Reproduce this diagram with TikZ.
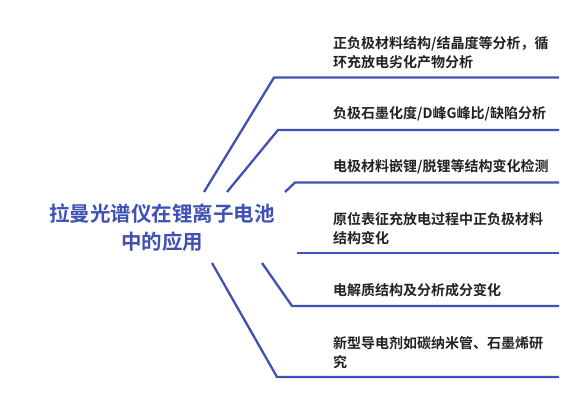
\documentclass[tikz,border=0pt]{standalone}
\usepackage{fontspec}
\setmainfont{Noto Sans CJK SC}
\newfontfamily\cjkb{Noto Sans CJK SC Bold}
\definecolor{lineblue}{HTML}{3F51B5}
\definecolor{titleblue}{HTML}{3F51B5}
\definecolor{labeltxt}{HTML}{222222}
\begin{document}
\begin{tikzpicture}[x=1pt,y=-1pt,
  branch/.style={draw=lineblue,line width=2.3pt,line join=miter},
  leaf/.style={anchor=west,inner sep=0pt,align=left,text=labeltxt,
    font=\cjkb\fontsize{14}{19}\selectfont},
  root/.style={inner sep=0pt,align=center,text=titleblue,
    font=\cjkb\fontsize{20.5}{28}\selectfont}]
\useasboundingbox (0,0) rectangle (588,407);
\node[root] (title) at (162,228) {拉曼光谱仪在锂离子电池\\中的应用};
\node[leaf] (l1) at (333,52.5) {正负极材料结构/结晶度等分析，循\\环充放电劣化产物分析};
\node[leaf] (l2) at (333,114) {负极石墨化度/D峰G峰比/缺陷分析};
\node[leaf] (l3) at (333,167) {电极材料嵌锂/脱锂等结构变化检测};
\node[leaf] (l4) at (333,229) {原位表征充放电过程中正负极材料\\结构变化};
\node[leaf] (l5) at (333,290) {电解质结构及分析成分变化};
\node[leaf] (l6) at (333,352.5) {新型导电剂如碳纳米管、石墨烯研\\究};
% branch coordinates
\coordinate (s1) at (204,192); \coordinate (k1) at (274,77.5); \coordinate (e1) at (559,77.5);
\coordinate (s2) at (227,192); \coordinate (k2) at (278,130); \coordinate (e2) at (559,130);
\coordinate (s3) at (285,192); \coordinate (k3) at (295,182.5); \coordinate (e3) at (559,182.5);
\coordinate (k4) at (297,253); \coordinate (e4) at (559,253);
\coordinate (s5) at (262,263); \coordinate (k5) at (292,306); \coordinate (e5) at (559,306);
\coordinate (s6) at (212,263); \coordinate (k6) at (277,377); \coordinate (e6) at (559,377);
\draw[branch] (s1) -- (k1) -- (e1);
\draw[branch] (s2) -- (k2) -- (e2);
\draw[branch] (s3) -- (k3) -- (e3);
\draw[branch] (k4) -- (e4);
\draw[branch] (s5) -- (k5) -- (e5);
\draw[branch] (s6) -- (k6) -- (e6);
\end{tikzpicture}
\end{document}
